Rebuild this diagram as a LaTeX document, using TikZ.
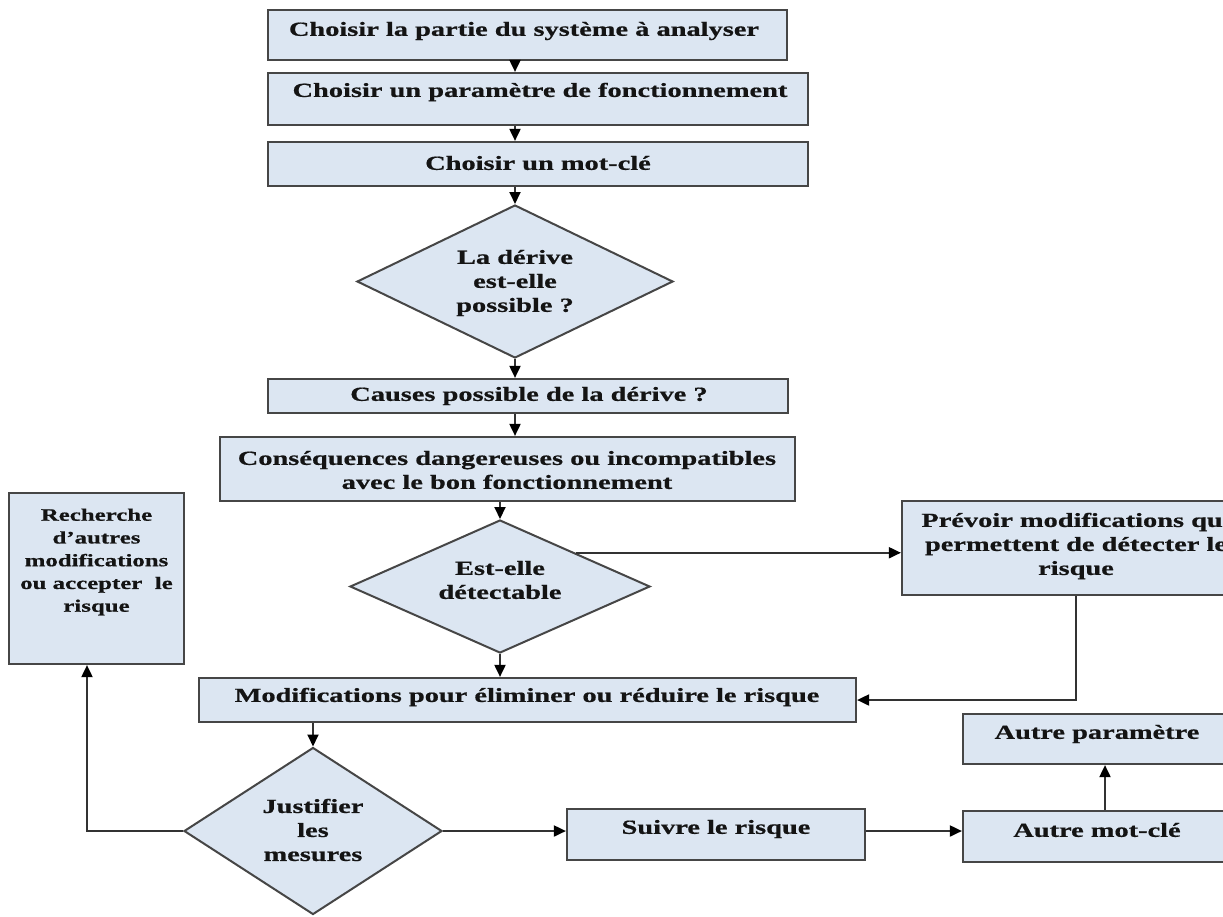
\documentclass[tikz,border=0pt]{standalone}
\usepackage{fontspec}
\newfontfamily\dfont{Liberation Serif}[FakeStretch=1.42,BoldFeatures={FakeStretch=1.42,FakeBold=0.7}]
\usetikzlibrary{shapes.geometric,arrows.meta}
\definecolor{boxfill}{RGB}{220,230,242}
\definecolor{boxline}{RGB}{70,70,70}
\definecolor{conline}{RGB}{50,50,50}
\definecolor{txtcol}{RGB}{20,20,20}
\tikzset{
  box/.style={draw=boxline,fill=boxfill,line width=2.2pt,inner sep=0pt,rectangle},
  dmd/.style={draw=boxline,fill=boxfill,line width=2pt,inner sep=0pt,diamond,shape aspect=2},
  txt/.style={inner sep=0pt,text=txtcol,align=center,font=\dfont\bfseries\fontsize{20}{24}\selectfont},
  smalltxt/.style={inner sep=0pt,text=txtcol,align=center,font=\dfont\bfseries\fontsize{17.5}{22.75}\selectfont},
  arr/.style={draw=conline,line width=1.9pt,-{Triangle[length=12pt,width=11pt,color=black]}},
  con/.style={draw=conline,line width=1.9pt}
}
\begin{document}
\begin{tikzpicture}[x=1pt,y=-1pt]
\useasboundingbox (0,0) rectangle (1223,916);
\clip (0,0) rectangle (1223,916);
\fill[white] (0,0) rectangle (1223,916);
% boxes
\node[box,minimum width=519pt,minimum height=50pt] (b1) at (527.5,35) {};
\node[box,minimum width=540pt,minimum height=52pt] (b2) at (538,99) {};
\node[box,minimum width=540pt,minimum height=44pt] (b3) at (538,164) {};
\node[dmd,minimum width=316pt,minimum height=153pt] (d1) at (515,281.5) {};
\node[box,minimum width=520pt,minimum height=34pt] (b4) at (528,396) {};
\node[box,minimum width=575pt,minimum height=64pt] (b5) at (507.5,469) {};
\node[dmd,minimum width=300pt,minimum height=133pt] (d2) at (500,586.5) {};
\node[box,minimum width=348pt,minimum height=94pt] (prev) at (1076,548) {};
\node[box,minimum width=175pt,minimum height=171pt] (lb) at (96.5,578.5) {};
\node[box,minimum width=657pt,minimum height=44pt] (b6) at (527.5,700) {};
\node[dmd,minimum width=258pt,minimum height=167pt] (d3) at (313,831) {};
\node[box,minimum width=298pt,minimum height=51pt] (suivre) at (716,834.5) {};
\node[box,minimum width=268pt,minimum height=51pt] (amc) at (1097,836.5) {};
\node[box,minimum width=268pt,minimum height=50pt] (ap) at (1097,739) {};
% texts
\node[txt] (t1) at (524,31) {Choisir la partie du système à analyser};
\node[txt] (t2) at (540,92) {Choisir un paramètre de fonctionnement};
\node[txt] (t3) at (538,163) {Choisir un mot-clé};
\node[txt] (td1) at (515,283) {La dérive\\est-elle\\possible ?};
\node[txt] (t4) at (529,396) {Causes possible de la dérive ?};
\node[txt] (t5) at (507,470) {Conséquences dangereuses ou incompatibles\\avec le bon fonctionnement};
\node[txt] (td2) at (500,580) {Est-elle\\détectable};
\node[txt] (tprev) at (1076,546) {Prévoir modifications qui\\permettent de détecter le\\risque};
\node[smalltxt] (tlb) at (96.5,562) {Recherche\\d’autres\\modifications\\ou accepter\ \ le\\risque};
\node[txt] (t6) at (527,697) {Modifications pour éliminer ou réduire le risque};
\node[txt] (td3) at (313,830) {Justifier\\les\\mesures};
\node[txt] (tsuivre) at (716,829) {Suivre le risque};
\node[txt] (tamc) at (1097,830) {Autre mot-clé};
\node[txt] (tap) at (1097,734) {Autre paramètre};
% connectors
\draw[arr] (b1.south -| d1.north) -- (b2.north -| d1.north);
\draw[arr] (b2.south -| d1.north) -- (b3.north -| d1.north);
\draw[arr] (b3.south -| d1.north) -- (d1.north);
\draw[arr] (d1.south) -- (d1.south |- b4.north);
\draw[arr] (b4.south -| d1.south) -- (b5.north -| d1.south);
\draw[arr] (b5.south -| d2.north) -- (d2.north);
\draw[arr] (d2.south) -- (d2.south |- b6.north);
\draw[arr] (d2.north east) -- (d2.north east -| prev.west);
\draw[arr] (prev.south) |- (b6.east);
\draw[arr] (b6.south -| d3.north) -- (d3.north);
\draw[arr] (d3.west) -| ([xshift=-9.5pt]lb.south);
\draw[arr] (d3.east) -- (d3.east -| suivre.west);
\draw[arr] (suivre.east |- d3.east) -- (d3.east -| amc.west);
\draw[arr] ([xshift=8pt]amc.north) -- ([xshift=8pt]ap.south);
\end{tikzpicture}
\end{document}
